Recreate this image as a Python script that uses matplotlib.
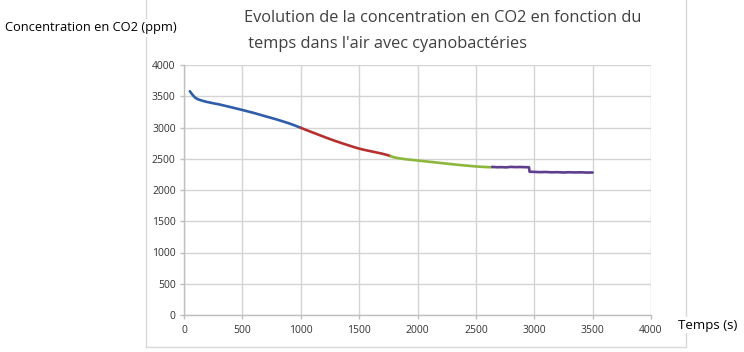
import matplotlib
matplotlib.use("Agg")
import matplotlib.pyplot as plt
from matplotlib.lines import Line2D

# ---- data ----
blue_t = [50, 70, 94, 115, 137, 165, 190, 220, 250, 300, 350, 400, 450, 500, 550, 600, 650, 700, 750, 800, 850, 900, 950, 1000]
blue_c = [3580, 3530, 3480, 3455, 3440, 3424, 3412, 3400, 3388, 3370, 3348, 3326, 3303, 3280, 3256, 3232, 3205, 3178, 3152, 3125, 3096, 3066, 3032, 2995]

red_t = [1000, 1050, 1100, 1150, 1200, 1250, 1300, 1350, 1400, 1450, 1500, 1550, 1600, 1650, 1700, 1740, 1770]
red_c = [2995, 2958, 2922, 2886, 2850, 2815, 2782, 2750, 2720, 2690, 2662, 2640, 2620, 2600, 2580, 2560, 2542]

green_t = [1770, 1800, 1850, 1900, 1950, 2000, 2050, 2100, 2150, 2200, 2250, 2300, 2350, 2400, 2450, 2500, 2550, 2600, 2640]
green_c = [2542, 2522, 2505, 2492, 2482, 2472, 2462, 2452, 2442, 2432, 2422, 2412, 2402, 2393, 2385, 2377, 2371, 2366, 2364]

purple_t = [2640, 2680, 2720, 2760, 2800, 2840, 2880, 2920, 2955, 2960, 3000, 3050, 3100, 3150, 3200, 3250, 3300, 3350, 3400, 3450, 3500]
purple_c = [2370, 2364, 2366, 2362, 2370, 2366, 2368, 2365, 2364, 2292, 2290, 2286, 2288, 2283, 2285, 2280, 2284, 2281, 2283, 2279, 2280]

x_ticks = [0, 500, 1000, 1500, 2000, 2500, 3000, 3500, 4000]
y_ticks = [0, 500, 1000, 1500, 2000, 2500, 3000, 3500, 4000]

title_l1 = "Evolution de la concentration en CO2 en fonction du"
title_l2 = " temps dans l'air avec cyanobactéries"
ylabel = "Concentration en CO2 (ppm)"
xlabel = "Temps (s)"

colors = ["#2F5DA9", "#B5302E", "#8CB63C", "#5E3E8F"]

plt.rcParams['font.family'] = ['Open Sans', 'DejaVu Sans']

fig = plt.figure(figsize=(7.44, 3.52), dpi=100)
fig.patch.set_facecolor("white")

# outer chart frame (left, right, bottom)
L, R, B, T = 146/744, 686/744, 1 - 347/352, 1.0
fig.add_artist(Line2D([L, L, R, R], [T, B, B, T], transform=fig.transFigure,
                      color="#D9D9D9", linewidth=1.0, zorder=0))

ax = fig.add_axes([184/744, 1 - 315/352, (651 - 184)/744, (315 - 65)/352])
for t, c, col in [(blue_t, blue_c, colors[0]), (red_t, red_c, colors[1]),
                  (green_t, green_c, colors[2]), (purple_t, purple_c, colors[3])]:
    ax.plot(t, c, color=col, linewidth=1.9, solid_capstyle="round", zorder=3)

ax.set_xlim(0, 4000)
ax.set_ylim(0, 4000)
ax.set_xticks(x_ticks)
ax.set_yticks(y_ticks)
ax.set_xticklabels([str(v) for v in x_ticks])
ax.set_yticklabels([str(v) for v in y_ticks])
ax.grid(True, color="#D4D4D4", linewidth=1.0)
ax.set_axisbelow(True)
for s in ["top", "right"]:
    ax.spines[s].set_visible(False)
for s in ["left", "bottom"]:
    ax.spines[s].set_color("#BFBFBF")
    ax.spines[s].set_linewidth(1.0)
ax.tick_params(axis="both", colors="#BFBFBF", labelcolor="#333333", labelsize=7.5,
               length=3, width=1.0)
ax.tick_params(axis="x", pad=4)
ax.tick_params(axis="y", pad=3)

fig.text(244/744, 1 - 18/352, title_l1, fontsize=11.8, color="#404040",
         ha="left", va="center")
fig.text(244/744, 1 - 44/352, title_l2, fontsize=11.8, color="#404040",
         ha="left", va="center")
fig.text(5/744, 1 - 28/352, ylabel, fontsize=9.3, color="black",
         ha="left", va="center",
         bbox=dict(facecolor="white", edgecolor="none", pad=2))
fig.text(678/744, 1 - 325/352, xlabel, fontsize=9.5, color="black",
         ha="left", va="center",
         bbox=dict(facecolor="white", edgecolor="none", pad=1))

fig.savefig("out.png", dpi=100, facecolor="white")
